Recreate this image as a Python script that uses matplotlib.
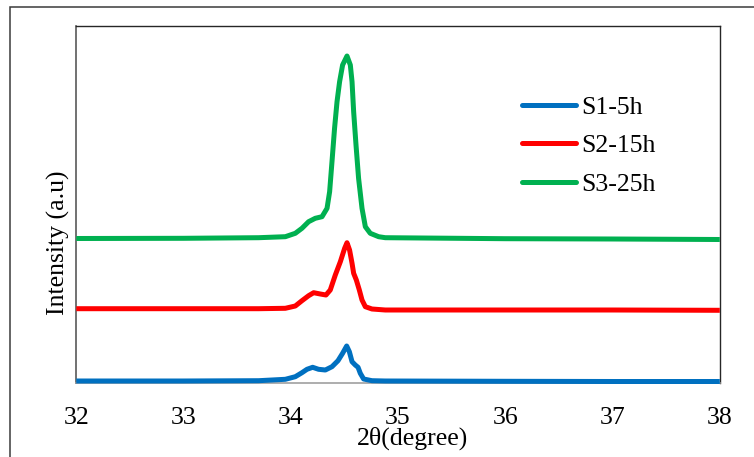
import matplotlib
matplotlib.use("Agg")
import matplotlib.pyplot as plt
from matplotlib.patches import Rectangle

plt.rcParams["font.family"] = ["Liberation Serif", "DejaVu Serif"]

# 2-theta positions and intensities (a.u., stacked with offsets)
theta_s1 = [32.0, 33.0, 33.7, 33.949, 34.042, 34.104, 34.151, 34.204, 34.259,
            34.322, 34.384, 34.44, 34.483, 34.521, 34.546, 34.571, 34.601,
            34.627, 34.648, 34.679, 34.757, 34.881, 36.0, 37.0, 38.0]
int_s1 = [5, 5, 8, 22, 48, 88, 122, 142, 122,
          115, 148, 208, 282, 355, 298, 198, 165,
          142, 82, 25, 8, 5, 2, 0, 0]

theta_s2 = [32.0, 33.0, 33.7, 33.949, 34.042, 34.104, 34.166, 34.213, 34.275,
            34.328, 34.368, 34.415, 34.462, 34.502, 34.524, 34.548, 34.571,
            34.586, 34.611, 34.639, 34.664, 34.695, 34.757, 34.881, 36.0,
            37.0, 38.0]
int_s2 = [728, 728, 728, 732, 755, 808, 858, 888, 875,
          865, 915, 1065, 1198, 1332, 1388, 1315, 1182,
          1082, 1015, 915, 815, 748, 725, 715, 715,
          715, 712]

theta_s3 = [32.0, 33.0, 33.7, 33.949, 34.042, 34.104, 34.166, 34.228, 34.291,
            34.338, 34.362, 34.384, 34.408, 34.431, 34.455, 34.483, 34.524,
            34.555, 34.571, 34.586, 34.608, 34.632, 34.664, 34.695, 34.741,
            34.819, 34.881, 36.0, 37.0, 38.0]
int_s3 = [1430, 1432, 1438, 1448, 1482, 1532, 1598, 1632, 1648,
          1732, 1898, 2198, 2532, 2798, 2998, 3165, 3255,
          3165, 2998, 2698, 2365, 2032, 1732, 1548, 1482,
          1448, 1438, 1428, 1425, 1420]

labels = ["S1-5h", "S2-15h", "S3-25h"]
colors = ["#0070C0", "#FF0000", "#00B050"]
xticks = [32, 33, 34, 35, 36, 37, 38]

W, H = 754, 457
fig = plt.figure(figsize=(W / 100, H / 100), dpi=100)

# outer chart border
fig.patches.append(Rectangle((9.5 / W, -0.1), 1.1, 1 - 7.3 / H + 0.1,
                             transform=fig.transFigure, fill=False,
                             edgecolor="#3a3a3a", linewidth=1.1))

left, right, top, bottom = 76.3, 719.8, 25.7, 382.5
ax = fig.add_axes([left / W, 1 - bottom / H, (right - left) / W, (bottom - top) / H])

for th, it, lab, c in zip([theta_s1, theta_s2, theta_s3],
                          [int_s1, int_s2, int_s3], labels, colors):
    ax.plot(th, it, color=c, lw=3.6, label=lab, clip_on=False,
            solid_capstyle="butt", solid_joinstyle="round", zorder=3)

ax.set_xlim(32, 38)
ax.set_ylim(-10, 3558)
ax.set_xticks(xticks)
ax.set_xticklabels([str(t) for t in xticks], fontsize=18.5)
ax.set_yticks([])
ax.tick_params(axis="x", length=0, pad=18)

for side in ["top", "right"]:
    ax.spines[side].set_color("#262626")
    ax.spines[side].set_linewidth(1.0)
ax.spines["left"].set_color("#595959")
ax.spines["left"].set_linewidth(1.2)
ax.spines["bottom"].set_color("#a0a0a0")
ax.spines["bottom"].set_linewidth(1.2)

fig.text(413 / W, 1 - 438 / H, "2θ(degree)", fontsize=18.5, ha="center", va="center")
fig.text(58 / W, 1 - 243 / H, "Intensity (a.u)", fontsize=18.5, rotation=90,
         ha="center", va="center")

leg = ax.legend(loc="upper left", bbox_to_anchor=(522 / W, 1 - 96 / H),
                bbox_transform=fig.transFigure, frameon=False, fontsize=18.5,
                handlelength=2.1, handletextpad=0.2, labelspacing=0.6,
                borderpad=0, borderaxespad=0)
for h in leg.get_lines():
    h.set_solid_capstyle("round")

fig.savefig("out.png", dpi=100)
